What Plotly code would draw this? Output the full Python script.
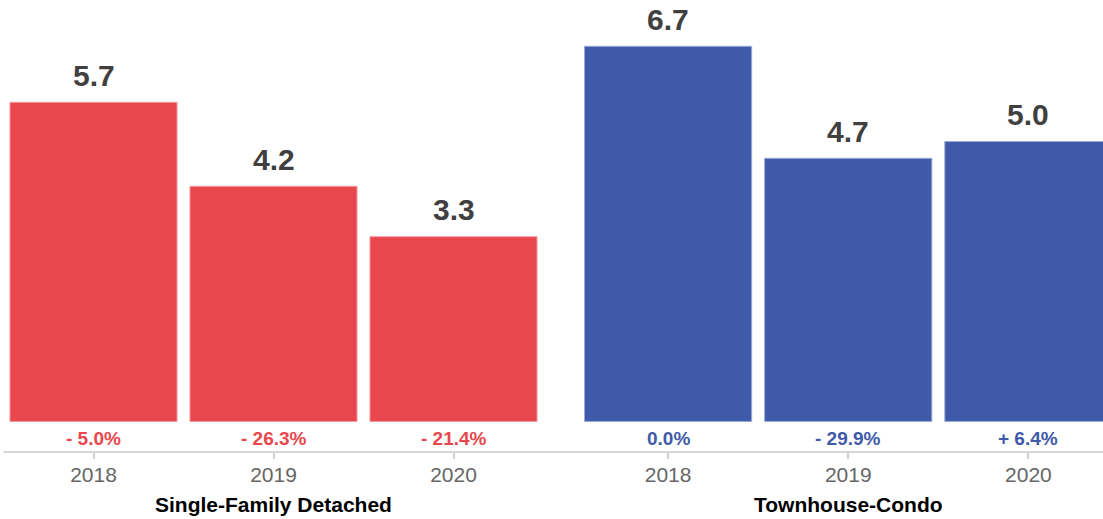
import plotly.graph_objects as go
from plotly.subplots import make_subplots

years = ["2018", "2019", "2020"]
sfd_values = [5.7, 4.2, 3.3]
tc_values = [6.7, 4.7, 5.0]
sfd_changes = ["- 5.0%", "- 26.3%", "- 21.4%"]
tc_changes = ["0.0%", "- 29.9%", "+ 6.4%"]
group_names = ["Single-Family Detached", "Townhouse-Condo"]

RED = "#E8474E"
BLUE = "#3F5AA8"
FONT = "Liberation Sans, Arial, sans-serif"

W, H = 1103, 519

fig = make_subplots(rows=1, cols=2)

groups = [
    (sfd_values, sfd_changes, RED, "#F29A9E", 1, group_names[0]),
    (tc_values, tc_changes, BLUE, "#9AAAD6", 2, group_names[1]),
]

for vals, chg, color, edge, col, gname in groups:
    fig.add_trace(
        go.Bar(
            x=years, y=vals, width=0.928,
            marker=dict(color=color, line=dict(color=edge, width=1)),
            showlegend=False, hoverinfo="skip",
        ),
        row=1, col=col,
    )
    xref = "x" if col == 1 else "x2"
    yref = "y" if col == 1 else "y2"
    for i, (v, c) in enumerate(zip(vals, chg)):
        fig.add_annotation(
            x=i, y=v, xref=xref, yref=yref, text=f"<b>{v:.1f}</b>",
            showarrow=False, yanchor="middle", yshift=27,
            font=dict(family=FONT, size=30, color="#404040"),
        )
        fig.add_annotation(
            x=i, y=-0.295, xref=xref, yref=yref, text=f"<b>{c}</b>",
            showarrow=False, yanchor="middle",
            font=dict(family=FONT, size=19, color=color),
        )
    fig.add_annotation(
        x=1, xref=xref, y=-0.117, yref="paper", text=f"<b>{gname}</b>",
        showarrow=False, yanchor="middle",
        font=dict(family=FONT, size=21, color="#000000"),
    )

axis_common = dict(
    type="category", showgrid=False, zeroline=False, showline=False,
    ticks="outside", ticklen=6, tickcolor="#d0d0d0", tickwidth=2,
    ticklabelstandoff=-2,
    tickfont=dict(family=FONT, size=21, color="#666666"),
    fixedrange=True,
)
fig.update_xaxes(**axis_common)
fig.update_xaxes(domain=[3.5 / W, 543.5 / W], range=[-0.5, 2.5], row=1, col=1)
fig.update_xaxes(domain=[578 / W, 1.0], range=[-0.5, 2.414], row=1, col=2)

fig.update_yaxes(range=[-0.545, 7.527], showgrid=False, zeroline=False, showticklabels=False,
                 showline=False, fixedrange=True)

fig.add_shape(type="line", xref="paper", yref="paper", x0=3.5 / W, x1=1.0, y0=0, y1=0,
              line=dict(color="#d6d6d6", width=2), layer="above")

fig.update_layout(
    width=W, height=H,
    margin=dict(l=0, r=0, t=0, b=67),
    paper_bgcolor="white", plot_bgcolor="white",
    font=dict(family=FONT),
)

fig.write_html(
    "out.html",
    config={"displayModeBar": False},
    post_script="document.body.style.margin='0';document.body.style.overflow='hidden';",
)
